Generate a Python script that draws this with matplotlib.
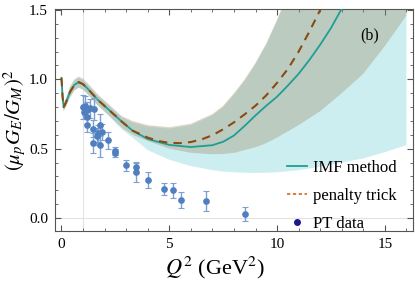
import matplotlib
matplotlib.use('Agg')
import matplotlib.pyplot as plt
from matplotlib.lines import Line2D
from matplotlib.ticker import MultipleLocator

plt.rcParams['font.family'] = ['Liberation Serif', 'DejaVu Serif']
plt.rcParams['mathtext.fontset'] = 'stix'

# central curves
imf_x = [0, 0.05, 0.1, 0.2, 0.4, 0.6, 0.8, 1.0, 1.2, 1.7, 2.2, 2.8, 3.3, 4, 5, 6, 7, 7.5,
         8, 8.5, 9, 9.5, 10, 10.5, 11, 11.5, 12, 12.5, 13, 13.3]
imf_y = [1.01, 0.88, 0.80, 0.83, 0.91, 0.96, 0.98, 0.965, 0.935, 0.85, 0.78, 0.695, 0.63, 0.57,
         0.527, 0.512, 0.525, 0.55, 0.595, 0.665, 0.74, 0.81, 0.875, 0.955, 1.04, 1.14, 1.25,
         1.37, 1.51, 1.6]
pen_x = [0, 0.05, 0.1, 0.2, 0.4, 0.6, 0.8, 1.0, 1.2, 1.7, 2.2, 2.8, 3.3, 4, 4.5, 5, 5.5, 6,
         6.5, 7, 7.5, 8, 8.5, 9, 9.5, 10, 10.5, 11, 11.5, 12, 12.3]
pen_y = [1.01, 0.88, 0.80, 0.83, 0.91, 0.96, 0.98, 0.965, 0.935, 0.85, 0.78, 0.695, 0.63, 0.58,
         0.555, 0.542, 0.54, 0.548, 0.567, 0.597, 0.64, 0.69, 0.748, 0.81, 0.885, 0.975, 1.075,
         1.2, 1.345, 1.5, 1.6]

# error bands
band_x = [0, 0.05, 0.1, 0.2, 0.4, 0.6, 0.8, 1.0, 1.2, 1.7, 2.2, 2.8, 3.3, 4, 5, 6, 7, 7.5,
          8, 8.5, 9, 9.5, 10, 10.5, 11, 12, 13, 14, 15, 16]
pen_hi = [1.04, 0.92, 0.83, 0.86, 0.95, 1.0, 1.02, 1.005, 0.975, 0.89, 0.82, 0.735, 0.70, 0.67,
          0.655, 0.68, 0.75, 0.81, 0.90, 1.0, 1.12, 1.26, 1.43, 1.62, 1.8, 2.2, 2.6, 3.0, 3.4, 3.8]
pen_lo = [0.98, 0.85, 0.77, 0.80, 0.87, 0.92, 0.94, 0.925, 0.895, 0.81, 0.74, 0.65, 0.60, 0.555,
          0.50, 0.47, 0.46, 0.462, 0.47, 0.49, 0.51, 0.54, 0.58, 0.625, 0.67, 0.77, 0.90, 1.04,
          1.24, 1.46]
imf_hi = [1.03, 0.91, 0.82, 0.85, 0.94, 0.99, 1.01, 0.995, 0.965, 0.88, 0.81, 0.725, 0.69, 0.66,
          0.645, 0.67, 0.74, 0.80, 0.89, 0.99, 1.11, 1.25, 1.42, 1.61, 1.79, 2.2, 2.6, 3.0, 3.4, 3.8]
imf_lo = [0.98, 0.85, 0.77, 0.80, 0.87, 0.92, 0.94, 0.925, 0.895, 0.81, 0.735, 0.64, 0.58, 0.49,
          0.42, 0.375, 0.345, 0.335, 0.33, 0.327, 0.325, 0.327, 0.33, 0.337, 0.345, 0.37, 0.40,
          0.43, 0.475, 0.526]

# PT data
pt_q2 = [1.01, 1.10, 1.17, 1.32, 1.06, 1.52, 1.17, 1.17, 1.78, 1.47, 1.70, 1.86, 1.63, 2.17,
         1.47, 1.78, 2.48, 2.48, 2.99, 3.48, 3.48, 4.00, 4.76, 5.15, 5.56, 6.69, 8.50]
pt_r = [0.80, 0.81, 0.78, 0.79, 0.765, 0.785, 0.73, 0.67, 0.67, 0.645, 0.61, 0.62, 0.59, 0.56,
        0.54, 0.53, 0.485, 0.47, 0.38, 0.365, 0.33, 0.275, 0.21, 0.20, 0.13, 0.123, 0.03]
pt_err = [0.085, 0.07, 0.06, 0.07, 0.05, 0.08, 0.05, 0.05, 0.08, 0.06, 0.06, 0.06, 0.06, 0.06,
          0.07, 0.09, 0.03, 0.03, 0.04, 0.04, 0.07, 0.055, 0.045, 0.055, 0.06, 0.075, 0.05]

fig = plt.figure(figsize=(4.15, 2.86), dpi=100)
ax = fig.add_axes([0.1325, 0.192, 0.8625, 0.7765])

ax.axvline(1, color='#e3e3e3', lw=0.8, zorder=0)
ax.axhline(0, color='#e3e3e3', lw=0.8, zorder=0)

ax.fill_between(band_x, imf_lo, imf_hi, color='#cdeef0', lw=0, zorder=1)
ax.fill_between(band_x, pen_lo, pen_hi, color=(159/255, 138/255, 103/255), alpha=0.35, lw=0, zorder=2)
ax.plot(imf_x, imf_y, color='#1f9e94', lw=1.3, zorder=3)
ax.plot(pen_x, pen_y, color='#8b4a14', lw=1.5, dashes=(4, 3), zorder=4)

ax.errorbar(pt_q2, pt_r, yerr=pt_err, fmt='o', ms=3.8, color='#4f7fbf', ecolor='#7d9fd2',
            elinewidth=1.0, capsize=2.2, capthick=0.8, zorder=5)

ax.text(14.3, 1.32, '(b)', fontsize=11.5, ha='center', va='center')

ax.set_xlim(-0.3, 16.3)
ax.set_ylim(-0.094, 1.507)
ax.xaxis.set_major_locator(MultipleLocator(5))
ax.xaxis.set_minor_locator(MultipleLocator(1))
ax.yaxis.set_major_locator(MultipleLocator(0.5))
ax.yaxis.set_minor_locator(MultipleLocator(0.1))
ax.tick_params(which='both', direction='in', top=True, right=True, color='#555555',
               labelsize=11, pad=5)
ax.tick_params(which='major', length=4, width=0.8)
ax.tick_params(which='minor', length=2, width=0.6)
for s in ax.spines.values():
    s.set_color('#555555')
    s.set_linewidth(0.8)

ax.set_xlabel(r'$Q^2$ (GeV$^2$)', fontsize=16)
ax.set_ylabel(r'$(\mu_p G_E/G_M)^2$', fontsize=15)
ax.xaxis.set_label_coords(0.447, -0.105)
ax.yaxis.set_label_coords(-0.072, 0.5)

handles = [Line2D([], [], color='#1f9e94', lw=1.3),
           Line2D([], [], color='#d2691e', lw=1.2, dashes=(2, 1.5)),
           Line2D([], [], ls='none', marker='o', ms=4, color='#1a1a8c')]
ax.legend(handles, ['IMF method', 'penalty trick', 'PT data'], loc='upper left',
          bbox_to_anchor=(0.648, 0.322), frameon=False, fontsize=12, handlelength=1.2,
          handletextpad=0.36, labelspacing=0.72, borderpad=0, borderaxespad=0)

fig.savefig('out.png', dpi=100)
